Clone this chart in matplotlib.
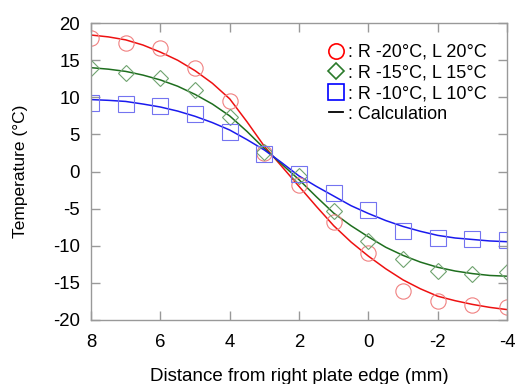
import matplotlib

matplotlib.use("Agg")
import matplotlib.pyplot as plt
from matplotlib.lines import Line2D

plt.rcParams["font.family"] = ["Liberation Sans", "DejaVu Sans"]
plt.rcParams["axes.unicode_minus"] = False

# measured points (distance from right plate edge, mm)
x_meas = [8, 7, 6, 5, 4, 3, 2, 1, 0, -1, -2, -3, -4]
t_meas_20 = [17.95, 17.3, 16.7, 13.95, 9.45, 2.5, -1.85, -6.8, -11.0, -16.05, -17.5, -18.0, -18.2]
t_meas_15 = [13.9, 13.3, 12.6, 11.0, 7.3, 2.6, -0.6, -5.35, -9.3, -11.8, -13.45, -13.8, -13.6]
t_meas_10 = [9.2, 9.05, 8.9, 7.7, 5.35, 2.4, -0.35, -2.95, -5.2, -8.0, -8.9, -9.05, -9.2]

# calculated curves
x_calc = [8, 7.5, 7, 6.5, 6, 5.5, 5, 4.5, 4, 3.5, 3, 2.5, 2, 1.5, 1, 0.5, 0,
          -0.5, -1, -1.5, -2, -2.5, -3, -3.5, -4]
t_calc_20 = [18.4, 18.15, 17.75, 17.05, 16.1, 15.0, 13.6, 11.9, 9.8, 6.7, 3.4, 0.7, -2.0,
             -4.7, -7.3, -9.5, -11.4, -13.1, -14.6, -15.8, -16.8, -17.4, -17.9, -18.3, -18.6]
t_calc_15 = [14.0, 13.8, 13.5, 13.0, 12.35, 11.5, 10.4, 9.1, 7.5, 5.4, 3.1, 1.0, -1.1,
             -3.4, -5.6, -7.3, -8.8, -10.2, -11.3, -12.2, -12.9, -13.4, -13.75, -14.0, -14.1]
t_calc_10 = [9.7, 9.6, 9.45, 9.1, 8.7, 8.15, 7.45, 6.6, 5.6, 4.3, 2.9, 1.2, -0.6,
             -2.0, -3.3, -4.6, -5.65, -6.6, -7.4, -8.05, -8.6, -8.95, -9.15, -9.35, -9.45]

labels = [": R -20°C, L 20°C", ": R -15°C, L 15°C", ": R -10°C, L 10°C", ": Calculation"]

RED, GREEN, BLUE = "#ee1111", "#1e6e1e", "#1a1aee"

fig = plt.figure(figsize=(5.15, 3.84), dpi=100)
ax = fig.add_axes([0.1767, 0.1667, 0.808, 0.773])

ax.plot(x_calc, t_calc_20, color=RED, lw=1.1)
ax.plot(x_calc, t_calc_15, color=GREEN, lw=1.1)
ax.plot(x_calc, t_calc_10, color=BLUE, lw=1.1)

ax.plot(x_meas, t_meas_20, ls="none", marker="o", ms=11, mfc="none", mec="#f08080", mew=0.8)
ax.plot(x_meas, t_meas_15, ls="none", marker="D", ms=8.5, mfc="none", mec="#6fa36f", mew=0.8)
ax.plot(x_meas, t_meas_10, ls="none", marker="s", ms=11, mfc="none", mec="#7474f0", mew=0.8)

ax.set_xlim(8, -4)
ax.set_ylim(-20, 20)
ax.set_xticks([8, 6, 4, 2, 0, -2, -4])
ax.set_yticks(range(-20, 21, 5))

for s in ax.spines.values():
    s.set_color("#999999")
    s.set_linewidth(1.0)
ax.tick_params(direction="in", length=6.5, width=1.0, color="#999999",
               top=True, right=True, labelsize=13.4)
ax.tick_params(axis="x", pad=10)
ax.tick_params(axis="y", pad=8)

ax.set_xlabel("Distance from right plate edge (mm)", fontsize=13.5, labelpad=12)
ax.set_ylabel("Temperature (°C)", fontsize=12.5, labelpad=18)

handles = [
    Line2D([], [], ls="none", marker="o", ms=11, mfc="none", mec="#ff0000", mew=1.2),
    Line2D([], [], ls="none", marker="D", ms=8.5, mfc="none", mec="#2a7a2a", mew=1.2),
    Line2D([], [], ls="none", marker="s", ms=11, mfc="none", mec="#0000ff", mew=1.2),
    Line2D([], [], color="black", lw=1.3),
]
ax.legend(handles, labels, loc="upper right", frameon=False, fontsize=13,
          handlelength=0.75, handletextpad=0.3, labelspacing=0.2,
          bbox_to_anchor=(0.99, 0.985))

fig.savefig("out.png", dpi=100)
